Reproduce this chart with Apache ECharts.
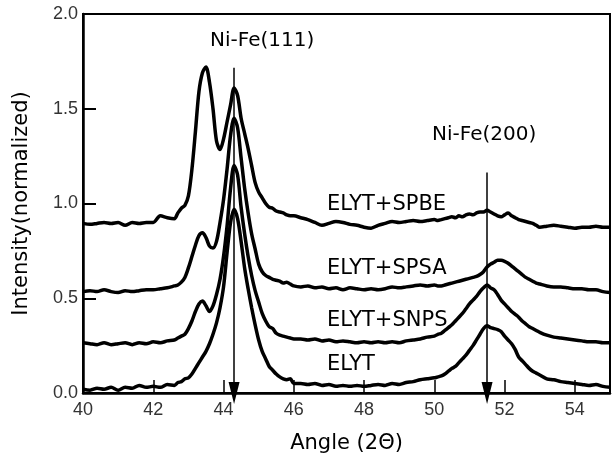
<!DOCTYPE html>
<html>
<head>
<meta charset="utf-8">
<script src="https://cdn.jsdelivr.net/npm/echarts@6/dist/echarts.min.js"></script>
<style>
html,body{margin:0;padding:0;background:#fff;}
#c{width:616px;height:459px;}
</style>
</head>
<body>
<div id="c"></div>
<script>
var angles = [
40.0,40.2,40.4,40.6,40.8,41.0,41.2,41.4,41.6,41.8,42.0,42.2,42.4,42.6,
42.7,42.8,42.9,43.0,43.1,43.2,43.3,43.4,43.5,43.6,43.7,43.8,43.9,44.0,44.1,44.2,44.3,44.4,44.5,44.6,44.7,44.8,44.9,45.0,45.1,45.2,45.3,45.4,45.5,45.6,45.7,45.8,45.9,46.0,
46.2,46.4,46.6,46.8,47.0,47.2,47.4,47.6,47.8,48.0,48.2,48.4,48.6,48.8,49.0,49.2,49.4,49.6,49.8,50.0,
50.1,50.2,50.3,50.4,50.5,50.6,50.7,50.8,50.9,51.0,51.1,51.2,51.3,51.4,51.5,51.6,51.7,51.8,51.9,52.0,52.1,52.2,52.3,52.4,52.5,52.6,52.7,52.8,52.9,53.0,
53.2,53.4,53.6,53.8,54.0,54.2,54.4,54.6,54.8,55.0
];

var elyt = [
0.02,0.015,0.025,0.02,0.03,0.015,0.03,0.025,0.04,0.03,0.035,0.03,0.045,0.04,
0.055,0.06,0.075,0.08,0.10,0.13,0.16,0.19,0.22,0.26,0.31,0.37,0.45,0.56,0.74,0.90,0.97,0.92,0.80,0.66,0.55,0.45,0.36,0.28,0.22,0.18,0.14,0.12,0.10,0.085,0.075,0.07,0.075,0.05,
0.05,0.045,0.05,0.04,0.045,0.035,0.04,0.035,0.04,0.035,0.04,0.045,0.04,0.05,0.045,0.055,0.06,0.07,0.075,0.08,
0.085,0.09,0.10,0.115,0.13,0.14,0.16,0.18,0.20,0.225,0.25,0.28,0.31,0.34,0.355,0.345,0.34,0.335,0.325,0.30,0.28,0.26,0.23,0.19,0.17,0.15,0.13,0.115,0.105,0.095,
0.075,0.07,0.06,0.055,0.05,0.045,0.04,0.045,0.035,0.03
];

var elytSnps = [
0.265,0.26,0.255,0.265,0.255,0.26,0.265,0.255,0.265,0.26,0.27,0.265,0.275,0.28,
0.29,0.30,0.31,0.34,0.38,0.43,0.47,0.485,0.46,0.43,0.46,0.52,0.60,0.72,0.88,1.08,1.20,1.15,0.98,0.84,0.72,0.62,0.54,0.48,0.42,0.38,0.35,0.34,0.315,0.305,0.30,0.295,0.29,0.285,
0.285,0.28,0.285,0.275,0.28,0.27,0.275,0.27,0.265,0.27,0.265,0.27,0.265,0.27,0.265,0.275,0.28,0.285,0.295,0.30,
0.31,0.315,0.33,0.345,0.36,0.38,0.40,0.42,0.445,0.47,0.49,0.51,0.535,0.555,0.57,0.555,0.545,0.52,0.49,0.47,0.45,0.43,0.415,0.40,0.38,0.365,0.35,0.34,0.33,0.32,
0.305,0.295,0.29,0.285,0.28,0.275,0.27,0.27,0.265,0.265
];

var elytSpsa = [
0.535,0.54,0.535,0.545,0.535,0.53,0.54,0.535,0.54,0.545,0.545,0.55,0.555,0.565,
0.57,0.585,0.61,0.66,0.72,0.78,0.83,0.845,0.82,0.775,0.765,0.80,0.90,1.02,1.18,1.36,1.45,1.40,1.24,1.08,0.95,0.84,0.76,0.68,0.64,0.62,0.61,0.60,0.595,0.59,0.58,0.585,0.575,0.565,
0.56,0.565,0.555,0.56,0.55,0.555,0.545,0.555,0.55,0.545,0.55,0.545,0.55,0.56,0.555,0.56,0.565,0.57,0.565,0.57,
0.565,0.565,0.57,0.575,0.58,0.585,0.59,0.595,0.60,0.605,0.61,0.615,0.625,0.64,0.665,0.68,0.69,0.70,0.70,0.695,0.685,0.67,0.655,0.64,0.625,0.61,0.60,0.59,0.58,0.575,
0.565,0.56,0.56,0.555,0.55,0.55,0.545,0.545,0.535,0.53
];

var elytSpbe = [
0.895,0.89,0.895,0.90,0.895,0.90,0.885,0.90,0.895,0.90,0.90,0.935,0.925,0.92,
0.95,0.975,0.99,1.04,1.18,1.38,1.59,1.69,1.72,1.64,1.50,1.33,1.285,1.34,1.43,1.52,1.61,1.57,1.45,1.37,1.29,1.20,1.11,1.06,1.03,1.00,0.98,0.975,0.96,0.955,0.95,0.94,0.935,0.935,
0.925,0.915,0.90,0.885,0.895,0.905,0.90,0.89,0.885,0.875,0.87,0.885,0.895,0.905,0.90,0.905,0.91,0.905,0.91,0.915,
0.91,0.915,0.92,0.925,0.93,0.925,0.935,0.93,0.94,0.945,0.94,0.95,0.955,0.955,0.965,0.955,0.945,0.935,0.93,0.94,0.95,0.935,0.925,0.915,0.91,0.905,0.90,0.895,0.885,0.875,
0.88,0.885,0.88,0.875,0.87,0.875,0.875,0.88,0.875,0.875
];

var seriesNames = ['ELYT', 'ELYT+SNPS', 'ELYT+SPSA', 'ELYT+SPBE'];
var peakNames = ['Ni-Fe(111)', 'Ni-Fe(200)'];
var peakPositions = [44.3, 51.5];
var arrowTops = [1.716, 1.163];
var xTicks = [40, 42, 44, 46, 48, 50, 52, 54];
var yTicks = [0.0, 0.5, 1.0, 1.5, 2.0];

function pairs(ys) {
  return angles.map(function (a, i) { return [a, ys[i]]; });
}

var FONT = 'DejaVu Sans';
var TICKFONT = 'Liberation Sans';
var chart = echarts.init(document.getElementById('c'), null, {renderer: 'canvas'});

var lineStyle = {color: '#000', width: 3.5};
var allSeries = [elyt, elytSnps, elytSpsa, elytSpbe].map(function (ys, k) {
  return {
    name: seriesNames[k],
    type: 'line',
    data: pairs(ys),
    showSymbol: false,
    symbol: 'none',
    smooth: 0.3,
    lineStyle: lineStyle,
    z: 3
  };
});

allSeries[0].markLine = {
  silent: true,
  symbol: ['none', 'triangle'],
  symbolSize: [11, 22],
  label: {show: false},
  lineStyle: {color: '#000', width: 1.5, type: 'solid'},
  data: peakPositions.map(function (p, i) {
    return [{coord: [p, arrowTops[i]]}, {coord: [p, 0]}];
  })
};

var labelTexts = [
  {text: seriesNames[3], left: 327, top: 194},
  {text: seriesNames[2], left: 327, top: 258},
  {text: seriesNames[1], left: 327, top: 310},
  {text: seriesNames[0], left: 327, top: 354},
  {text: peakNames[0], left: 210, top: 31},
  {text: peakNames[1], left: 432, top: 125}
];

chart.setOption({
  animation: false,
  backgroundColor: '#fff',
  grid: {left: 83, top: 14, right: 6, bottom: 66, show: true, borderColor: '#000', borderWidth: 2, backgroundColor: 'transparent'},
  xAxis: {
    type: 'value',
    min: 40, max: 55, interval: 2,
    name: 'Angle (2\u0398)',
    nameLocation: 'middle',
    nameGap: 40,
    nameTextStyle: {fontFamily: FONT, fontSize: 21, color: '#000'},
    axisLine: {show: true, onZero: false, lineStyle: {color: '#000', width: 2.5}},
    axisTick: {show: true, inside: true, length: 13, lineStyle: {color: '#000', width: 1.5}},
    axisLabel: {fontFamily: TICKFONT, fontSize: 18, color: '#333', margin: 8, showMaxLabel: false,
      formatter: function (v) { return xTicks.indexOf(v) >= 0 ? String(v) : ''; }},
    splitLine: {show: false}
  },
  yAxis: {
    type: 'value',
    min: 0, max: 2, interval: 0.5,
    name: 'Intensity(normalized)',
    nameLocation: 'middle',
    nameGap: 51,
    nameRotate: 90,
    nameTextStyle: {fontFamily: FONT, fontSize: 21, color: '#000'},
    axisLine: {show: true, lineStyle: {color: '#000', width: 2.5}},
    axisTick: {show: true, inside: true, length: 13, lineStyle: {color: '#000', width: 2}},
    axisLabel: {fontFamily: TICKFONT, fontSize: 18, color: '#333', margin: 5,
      formatter: function (v) { return yTicks.indexOf(v) >= 0 ? v.toFixed(1) : ''; }},
    splitLine: {show: false}
  },
  series: allSeries,
  graphic: labelTexts.map(function (t, i) {
    return {
      type: 'text',
      left: t.left,
      top: t.top,
      z: 10,
      style: {text: t.text, fontFamily: FONT, fontSize: i < 4 ? 21 : 20, fill: '#000'}
    };
  })
});
</script>
</body>
</html>
